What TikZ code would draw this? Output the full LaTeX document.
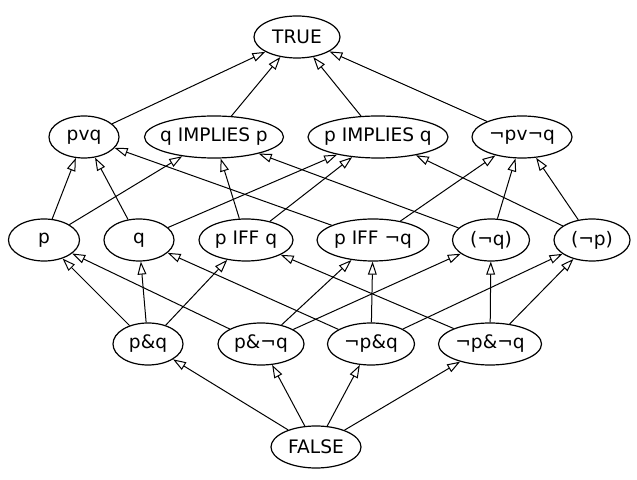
\documentclass[tikz,border=0pt]{standalone}
\usepackage{fontspec}
\setmainfont{DejaVu Sans}
\usetikzlibrary{arrows.meta,shapes.geometric}
\begin{document}
\begin{tikzpicture}[x=0.5pt, y=-0.5pt, prop/.style={draw, semithick, shape=ellipse, inner sep=0pt, inner xsep=-3pt, minimum height=21pt, font=\fontsize{9.3}{10}\selectfont}, imp/.style={draw, line width=0.5pt, -{Triangle[open, length=6.5pt, width=4.4pt]}}]
        \useasboundingbox (0,0) rectangle (637,480);
        \def\rowa{37}
        \def\rowb{137}
        \def\rowc{240}
        \def\rowd{344}
        \def\rowe{447}

        % top and bottom
        \node[prop, minimum width=43pt] (t) at (297,\rowa) {TRUE};
        \node[prop, minimum width=45pt] (f) at (316,\rowe) {FALSE};

        % disjunctions
        \node[prop, minimum width=35pt] (pvq) at (84,\rowb) {pvq};\node[prop, minimum width=69.5pt] (qip) at (214,\rowb) {q IMPLIES p};
        \node[prop, minimum width=70pt] (piq) at (378,\rowb) {p IMPLIES q};\node[prop, minimum width=50pt] (npvnq) at (522,\rowb) {¬pv¬q};

        % middle row
        \node[prop, minimum width=35.5pt] (p) at (44,\rowc) {p};\node[prop, minimum width=35pt] (q) at (139,\rowc) {q};
        \node[prop, minimum width=47pt] (piffq) at (246,\rowc) {p IFF q};\node[prop, minimum width=56pt] (piffnq) at (373,\rowc) {p IFF ¬q};
        \node[prop, minimum width=38.5pt] (nq) at (491,\rowc) {(¬q)};\node[prop, minimum width=38pt] (np) at (592,\rowc) {(¬p)};

        % conjunctions
        \node[prop, minimum width=35pt] (pq) at (148,\rowd) {p\&q};\node[prop, minimum width=43pt] (pnq) at (261,\rowd) {p\&¬q};
        \node[prop, minimum width=43.5pt] (npq) at (371,\rowd) {¬p\&q};\node[prop, minimum width=51.5pt] (npnq) at (490,\rowd) {¬p\&¬q};

        \draw[imp] (pvq) -- (t);\draw[imp] (qip) -- (t);\draw[imp] (piq) -- (t);\draw[imp] (npvnq) -- (t);

        \draw[imp] (p) -- (pvq);\draw[imp] (p) -- (qip);
        \draw[imp] (q) -- (pvq);\draw[imp] (q) -- (piq);
        \draw[imp] (piffq) -- (qip);\draw[imp] (piffq) -- (piq);
        \draw[imp] (piffnq) -- (pvq);\draw[imp] (piffnq) -- (npvnq);
        \draw[imp] (nq) -- (qip);\draw[imp] (nq) -- (npvnq);
        \draw[imp] (np) -- (piq);\draw[imp] (np) -- (npvnq);

        \draw[imp] (pq) -- (p);\draw[imp] (pq) -- (q);\draw[imp] (pq) -- (piffq);
        \draw[imp] (pnq) -- (p);\draw[imp] (pnq) -- (nq);\draw[imp] (pnq) -- (piffnq);
        \draw[imp] (npq) -- (q);\draw[imp] (npq) -- (np);\draw[imp] (npq) -- (piffnq);
        \draw[imp] (npnq) -- (np);\draw[imp] (npnq) -- (nq);\draw[imp] (npnq) -- (piffq);

        \draw[imp] (f) -- (pq);\draw[imp] (f) -- (pnq);\draw[imp] (f) -- (npq);\draw[imp] (f) -- (npnq);
    \end{tikzpicture}
\end{document}
